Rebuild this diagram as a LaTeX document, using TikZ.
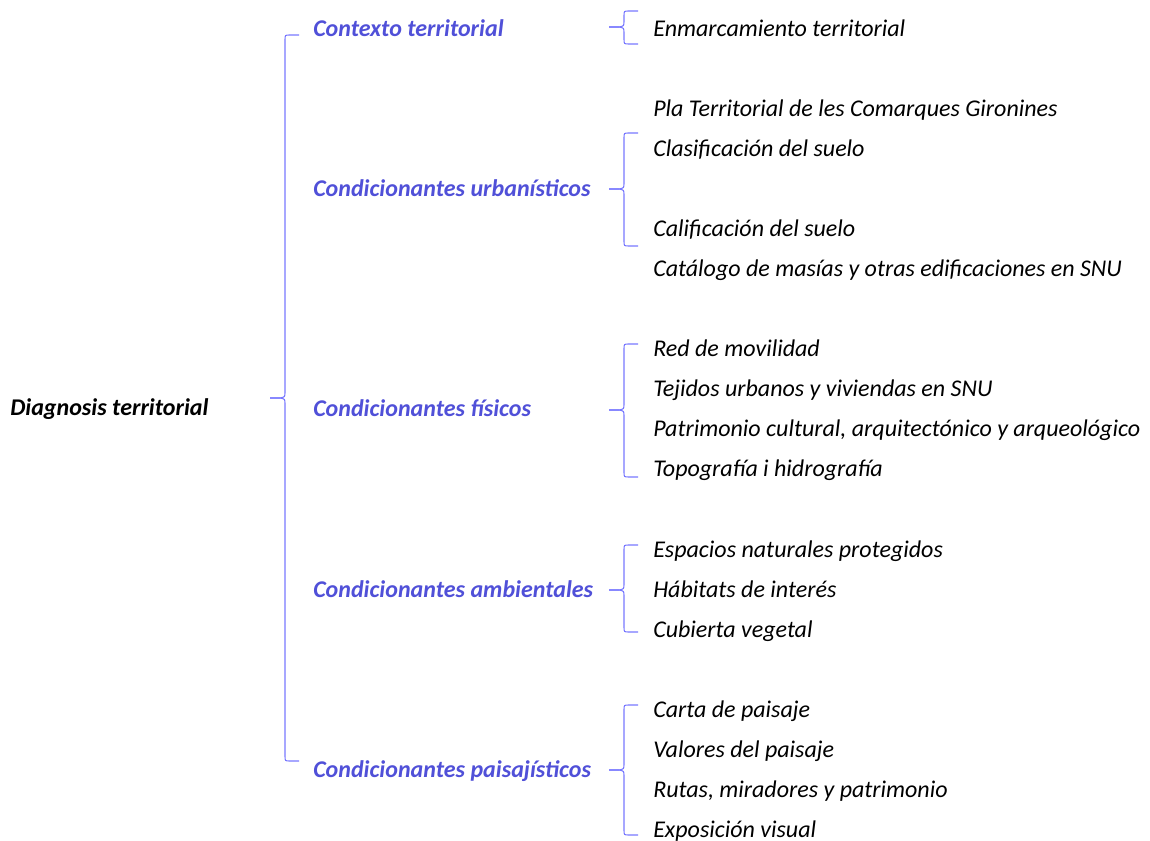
\documentclass[tikz,border=0pt]{standalone}
\usepackage{fontspec}
\setmainfont{Carlito}
\usetikzlibrary{positioning}

\definecolor{azulcab}{RGB}{80,80,216}
\definecolor{azulllave}{RGB}{120,120,255}

% llave: tip x, tip y, top y, bottom y
\newcommand{\llave}[4]{%
  \pgfmathsetmacro{\vx}{#1+15}\pgfmathsetmacro{\hx}{#1+29}
  \draw[llave] (\hx,#3) -- (\vx+5,#3) .. controls (\vx,#3) .. (\vx,#3+5)
    -- (\vx,#2-6) .. controls (\vx,#2-1) .. (\vx-5,#2) -- (#1,#2);
  \draw[llave] (#1,#2) -- (\vx-5,#2) .. controls (\vx,#2+1) .. (\vx,#2+6)
    -- (\vx,#4-5) .. controls (\vx,#4) .. (\vx+5,#4) -- (\hx,#4);
}

\tikzset{
  raiz/.style={anchor=base west, inner sep=0pt, font=\fontsize{18}{21}\selectfont\bfseries\itshape},
  cab/.style={raiz, text=azulcab},
  hoja/.style={anchor=base west, inner sep=0pt, font=\fontsize{18}{21}\selectfont\itshape},
  llave/.style={draw=azulllave, line width=0.8pt},
}

\begin{document}
\begin{tikzpicture}[x=0.75pt, y=-0.75pt]
  \useasboundingbox (0,0) rectangle (1150,841);

  \node[raiz] (diag) at (10,416) {Diagnosis territorial};

  % cabeceras
  \node[cab] (ctx) at (313,37) {Contexto territorial};
  \node[cab] (urb) at (313,197) {Condicionantes urbanísticos};
  \node[cab] (fis) at (313,417) {Condicionantes físicos};
  \node[cab] (amb) at (313,597) {Condicionantes ambientales};
  \node[cab] (pai) at (313,777) {Condicionantes paisajísticos};

  % hojas
  \node[hoja] (ctx1) at (653,37) {Enmarcamiento territorial};

  \node[hoja] (urb1) at (653,117) {Pla Territorial de les Comarques Gironines};
  \node[hoja] (urb2) at (653,157) {Clasificación del suelo};
  \node[hoja] (urb3) at (653,237) {Calificación del suelo};
  \node[hoja] (urb4) at (653,277) {Catálogo de masías y otras edificaciones en SNU};

  \node[hoja] (fis1) at (653,357) {Red de movilidad};
  \node[hoja] (fis2) at (653,397) {Tejidos urbanos y viviendas en SNU};
  \node[hoja] (fis3) at (653,437) {Patrimonio cultural, arquitectónico y arqueológico};
  \node[hoja] (fis4) at (653,477) {Topografía i hidrografía};

  \node[hoja] (amb1) at (653,557) {Espacios naturales protegidos};
  \node[hoja] (amb2) at (653,597) {Hábitats de interés};
  \node[hoja] (amb3) at (653,637) {Cubierta vegetal};

  \node[hoja] (pai1) at (653,717) {Carta de paisaje};
  \node[hoja] (pai2) at (653,757) {Valores del paisaje};
  \node[hoja] (pai3) at (653,797) {Rutas, miradores y patrimonio};
  \node[hoja] (pai4) at (653,837) {Exposición visual};

  % llaves
  \llave{270}{398}{35}{761}
  \llave{609}{27}{11}{44}
  \llave{609}{189}{133}{246}
  \llave{609}{410}{344}{477}
  \llave{609}{590}{545}{632}
  \llave{609}{770}{705}{835}
\end{tikzpicture}
\end{document}
